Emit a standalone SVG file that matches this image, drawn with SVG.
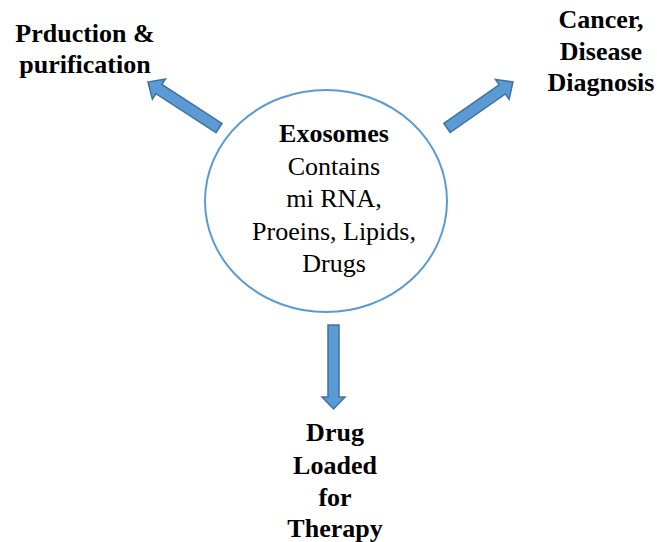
<svg xmlns="http://www.w3.org/2000/svg" width="657" height="542" viewBox="0 0 657 542">
<style>
.t{font-family:"Liberation Serif","Times New Roman",serif;font-size:26px;fill:#000;text-anchor:middle}
.b{font-weight:bold}
.arr{fill:#5B9BD5;stroke:#41719C;stroke-width:1.5;stroke-linejoin:miter}
</style>
<rect width="657" height="542" fill="#fff"/>
<g id="connectors">
<path class="arr" transform="translate(219,128) rotate(212.9)" d="M0,-5.5 L71.6,-5.5 L71.6,-12 L84.6,0 L71.6,12 L71.6,5.5 L0,5.5 Z"/>
<path class="arr" transform="translate(447,128) rotate(-34.9)" d="M0,-5.5 L67.4,-5.5 L67.4,-12 L80.4,0 L67.4,12 L67.4,5.5 L0,5.5 Z"/>
<path class="arr" transform="translate(333.5,325) rotate(90)" d="M0,-5.5 L72,-5.5 L72,-11.5 L84,0 L72,11.5 L72,5.5 L0,5.5 Z"/>
</g>
<g id="exosomes">
<ellipse cx="326" cy="201" rx="121" ry="111" fill="none" stroke="#5B9BD5" stroke-width="2"/>
<text class="t" x="334" y="142"><tspan class="b">Exosomes</tspan><tspan x="334" y="175">Contains</tspan><tspan x="334" y="207">mi RNA,</tspan><tspan x="334" y="240">Proeins, Lipids,</tspan><tspan x="334" y="272">Drugs</tspan></text>
</g>
<g id="production">
<text class="t b" x="85" y="42">Prduction &amp;<tspan x="85" y="73">purification</tspan></text>
</g>
<g id="diagnosis">
<text class="t b" x="601" y="28">Cancer,<tspan x="601" y="60">Disease</tspan><tspan x="601" y="91">Diagnosis</tspan></text>
</g>
<g id="therapy">
<text class="t b" x="335" y="441">Drug<tspan x="335" y="474">Loaded</tspan><tspan x="335" y="506">for</tspan><tspan x="335" y="537">Therapy</tspan></text>
</g>
</svg>
